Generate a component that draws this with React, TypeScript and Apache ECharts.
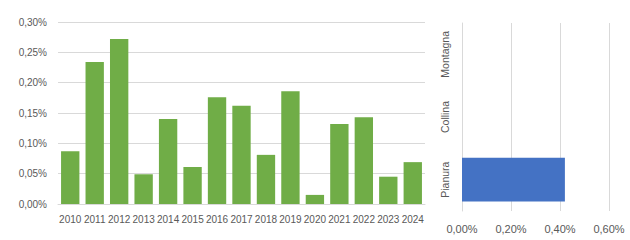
import React, { useEffect, useRef } from "react";
import * as echarts from "echarts";

const years = ["2010","2011","2012","2013","2014","2015","2016","2017","2018","2019","2020","2021","2022","2023","2024"];
const yearValues = [0.087, 0.234, 0.272, 0.049, 0.140, 0.061, 0.176, 0.162, 0.081, 0.186, 0.015, 0.132, 0.143, 0.045, 0.069];
const zones = ["Pianura", "Collina", "Montagna"];
const zoneValues = [0.42, 0, 0];

const fmt = (v: number) => v.toFixed(2).replace(".", ",") + "%";
const FONT = "Liberation Sans";
const TXT = "#595959";
const GRID = "#D9D9D9";

export default function App() {
  const ref = useRef<HTMLDivElement>(null);
  useEffect(() => {
    if (!ref.current) return;
    const chart = echarts.init(ref.current, null, { renderer: "svg" });
    chart.setOption({
      animation: false,
      backgroundColor: "#fff",
      grid: [
        { left: 58, top: 22, width: 367, height: 182 },
        { left: 462, top: 23, width: 147, height: 188 },
      ],
      xAxis: [
        {
          gridIndex: 0,
          type: "category",
          data: years,
          axisLine: { show: true, lineStyle: { color: GRID } },
          axisTick: { show: false },
          axisLabel: { interval: 0, color: TXT, fontFamily: FONT, fontSize: 10, margin: 10 },
        },
        {
          gridIndex: 1,
          type: "value",
          min: 0,
          max: 0.6,
          interval: 0.2,
          axisLine: { show: false },
          axisTick: { show: false },
          splitLine: { lineStyle: { color: GRID } },
          axisLabel: { color: TXT, fontFamily: FONT, fontSize: 11, margin: 12, formatter: fmt },
        },
      ],
      yAxis: [
        {
          gridIndex: 0,
          type: "value",
          min: 0,
          max: 0.3,
          interval: 0.05,
          axisLine: { show: false },
          axisTick: { show: false },
          splitLine: { lineStyle: { color: GRID } },
          axisLabel: { color: TXT, fontFamily: FONT, fontSize: 10, margin: 11, formatter: fmt },
        },
        {
          gridIndex: 1,
          type: "category",
          data: zones,
          axisLine: { show: true, lineStyle: { color: GRID } },
          axisTick: { show: false },
          axisLabel: { interval: 0, rotate: 90, color: TXT, fontFamily: FONT, fontSize: 10.5, margin: 12 },
        },
      ],
      series: [
        {
          type: "bar",
          xAxisIndex: 0,
          yAxisIndex: 0,
          data: yearValues,
          barCategoryGap: "25%",
          itemStyle: { color: "#70AD47" },
        },
        {
          type: "bar",
          xAxisIndex: 1,
          yAxisIndex: 1,
          data: zoneValues,
          barCategoryGap: "30%",
          itemStyle: { color: "#4472C4" },
        },
      ],
    });
    return () => chart.dispose();
  }, []);
  return (
    <div
      ref={ref}
      style={{ position: "fixed", left: 0, top: 0, width: 630, height: 240 }}
    />
  );
}
